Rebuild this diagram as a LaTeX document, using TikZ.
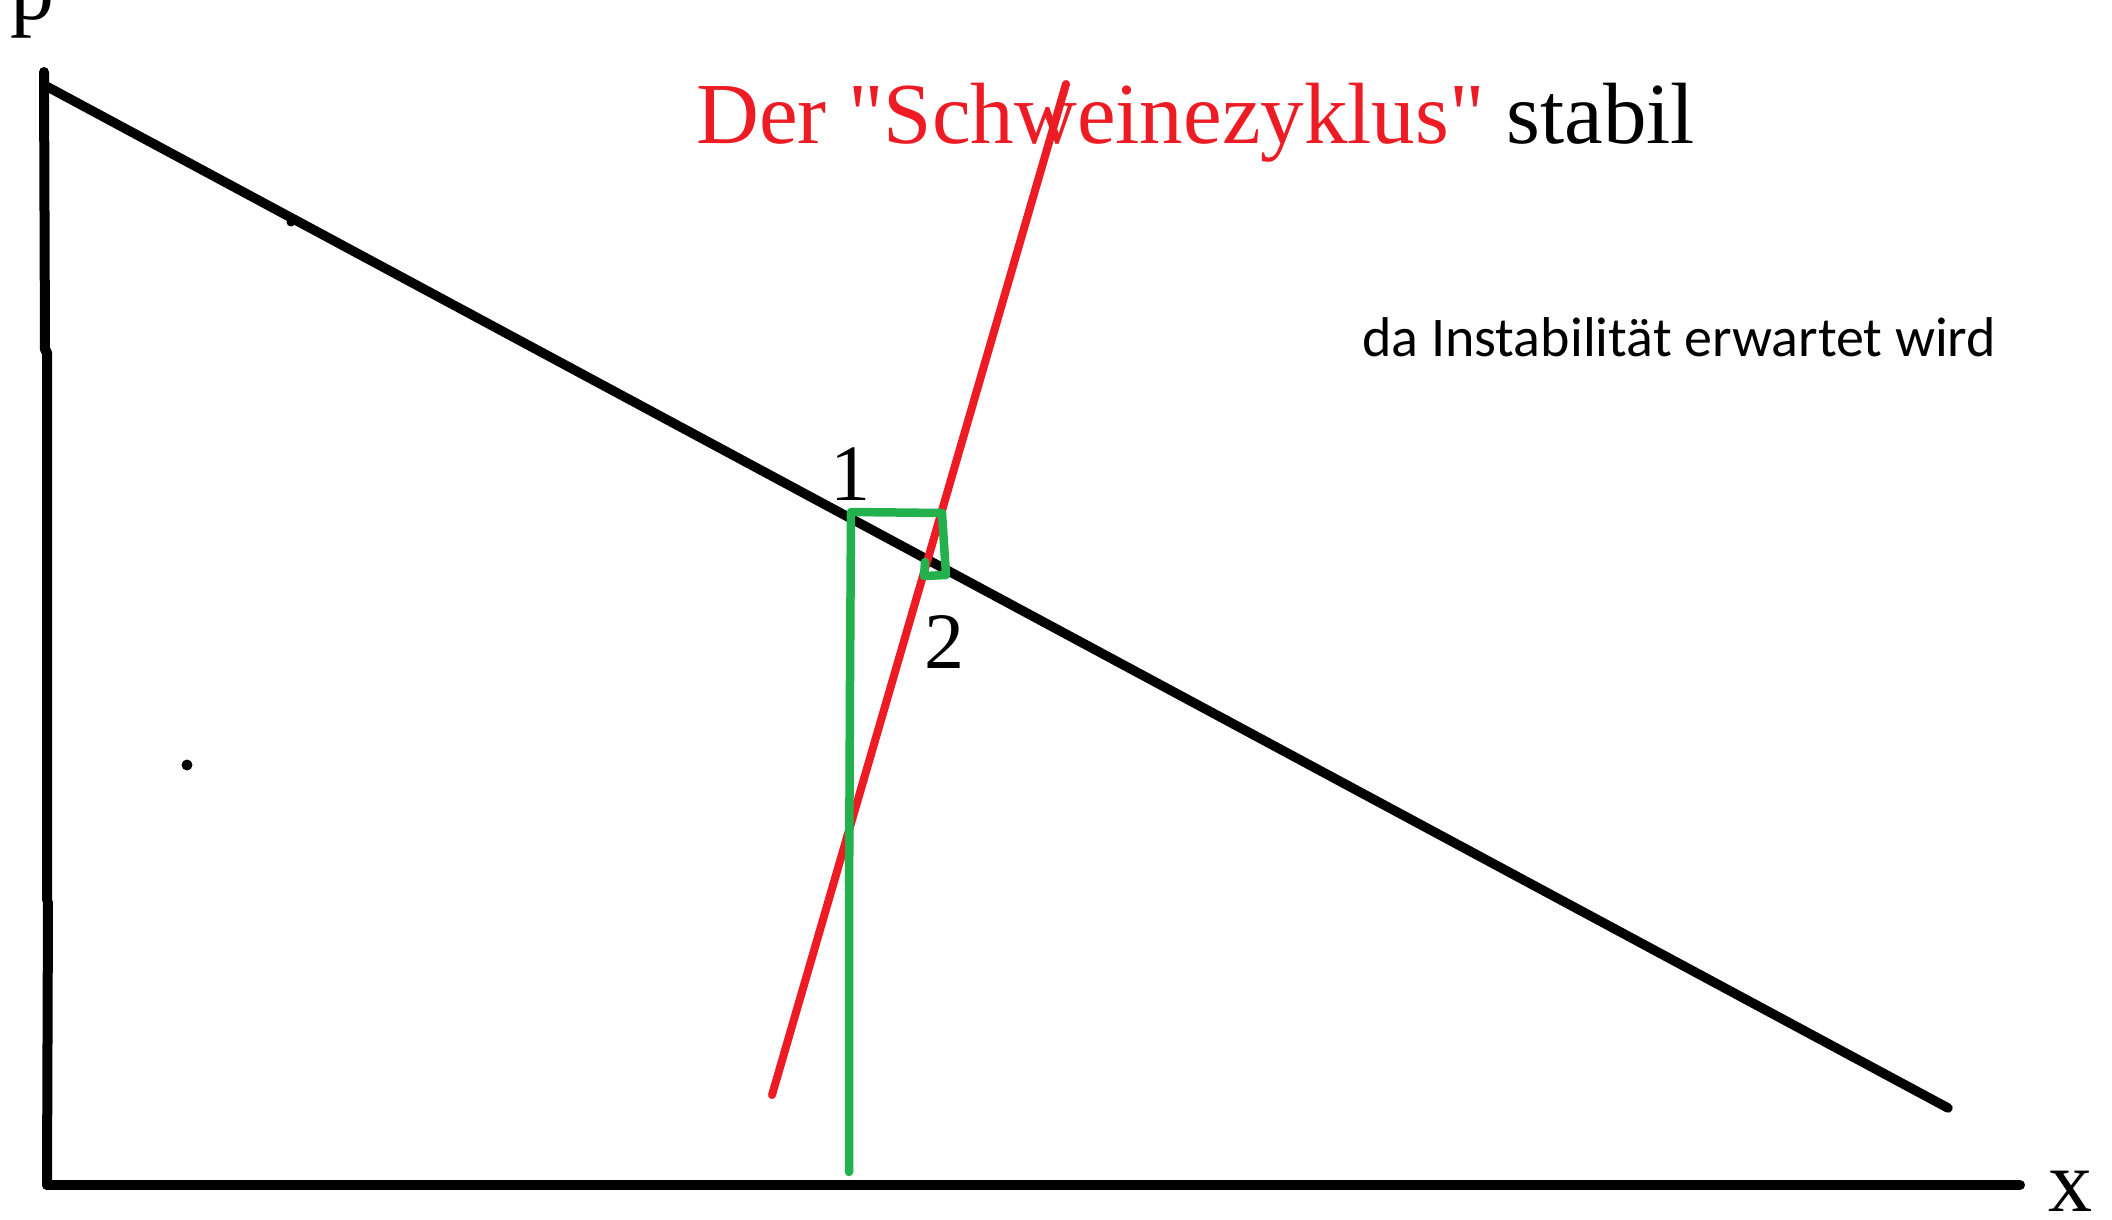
\documentclass[tikz,border=0pt]{standalone}
\usepackage{fontspec}
\setmainfont{Liberation Serif}
\newfontfamily\titlefont{Liberation Serif}[Ligatures=TeXOff]
\newfontfamily\carlito{Carlito}
\definecolor{pred}{RGB}{237,28,36}
\definecolor{pgreen}{RGB}{34,177,76}
\tikzset{
  axisline/.style={line width=10, black, line cap=round},
  demandline/.style={line width=9.5, black, line cap=round},
  supplyline/.style={line width=8, pred, line cap=round},
  cobweb/.style={line width=8.5, pgreen, line cap=round, line join=round},
  lbl/.style={inner sep=0pt, anchor=base west},
}
\begin{document}
\begin{tikzpicture}[x=1pt,y=-1pt]
\useasboundingbox (0,0) rectangle (2112,1220);
\fill[white] (0,0) rectangle (2112,1220);
% axes
\coordinate (ytop) at (44,72);
\coordinate (origin) at (47,1185);
\coordinate (xend) at (2020,1185);
\draw[axisline] (ytop) -- (45,350) (47,352) -- (47,900) (48,902) -- (origin);
\draw[axisline] (origin) -- (xend);
% demand line
\coordinate (dstart) at (46,86);
\coordinate (dend) at (1948,1108);
\draw[demandline] (dstart) -- (dend);
% supply line
\coordinate (sbot) at (772,1095);
\coordinate (stop) at (1066,84);
\draw[supplyline] (sbot) -- (stop);
% cobweb
\coordinate (g0) at (849,1172);
\coordinate (g1) at (851,512);
\coordinate (g2) at (942,513);
\coordinate (g3) at (946,575);
\coordinate (g4) at (924,576);
\coordinate (g5) at (925,562);
\draw[cobweb] (g0) -- (849,910) -- (850,680) -- (g1) -- (g2) -- (g3) -- (g4) -- (g5);
% dots
\fill[black] (187,765) circle (5.5);
\fill[black] (291,222) circle (4.5);
% labels
\node[lbl] (p) at (10,20) {\fontsize{88}{100}\selectfont p};
\node[lbl] (x) at (2048,1211) {\fontsize{88}{100}\selectfont x};
\node[lbl] (one) at (830,500) {\fontsize{80}{90}\selectfont 1};
\node[lbl] (two) at (924,668) {\fontsize{80}{90}\selectfont 2};
\node[lbl] (title) at (696,143) {\titlefont\fontsize{87}{100}\selectfont\textcolor{pred}{Der "Schweinezyklus"} stabil};
\node[lbl] (note) at (1362,356) {\carlito\fontsize{56}{66}\selectfont da Instabilität erwartet wird};
\end{tikzpicture}
\end{document}
